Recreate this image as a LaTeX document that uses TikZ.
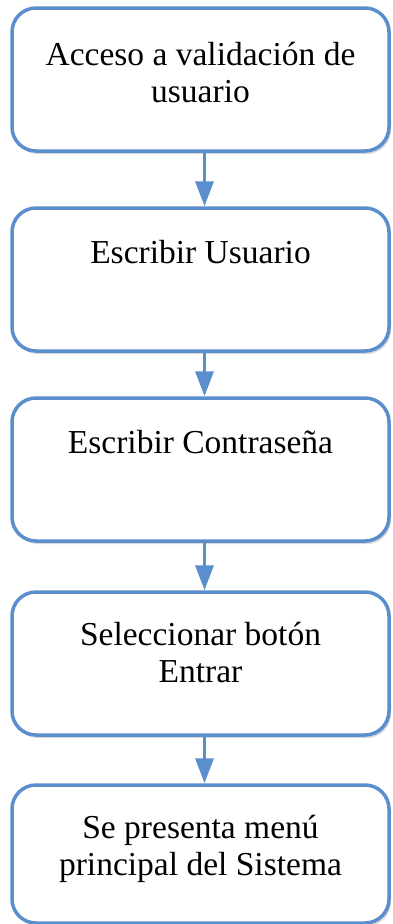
\documentclass[tikz,border=0pt]{standalone}
\usepackage{fontspec}
\setmainfont{Liberation Serif}
\usetikzlibrary{positioning,shadows,arrows.meta}
\definecolor{boxblue}{RGB}{91,142,204}

\begin{document}
\begin{tikzpicture}[
  stepbox/.style={draw=boxblue,line width=3.5pt,rounded corners=24pt,fill=white,
    minimum width=377pt,minimum height=143pt,
    drop shadow={opacity=0.3,shadow xshift=2pt,shadow yshift=-3pt}},
  steptext/.style={anchor=base,align=center,font=\fontsize{33.5}{37}\selectfont,inner sep=0pt},
  flow/.style={draw=boxblue,line width=3.5pt,-{Triangle[width=18pt,length=25pt]}}]

\useasboundingbox (0,0) rectangle (393pt,-924pt);

\node[stepbox] (acceso) at (200.5pt,-79.5pt) {};
\node[stepbox,below=53.5pt of acceso] (usuario) {};
\node[stepbox,below=43.5pt of usuario] (clave) {};
\node[stepbox,below=47.5pt of clave] (entrar) {};
\node[stepbox,below=46.5pt of entrar,minimum height=138pt] (menu) {};

% base is the last line
\node[steptext] (t1) at ([yshift=-96pt]acceso.north) {Acceso a validación de\\usuario};
\node[steptext] (t2) at ([yshift=-57pt]usuario.north) {Escribir Usuario};
\node[steptext] (t3) at ([yshift=-57pt]clave.north) {Escribir Contraseña};
\node[steptext] (t4) at ([yshift=-92pt]entrar.north) {Seleccionar botón\\Entrar};
\node[steptext] (t5) at ([yshift=-92pt]menu.north) {Se presenta menú\\principal del Sistema};

\draw[flow] ([xshift=4pt]acceso.south) -- ([xshift=4pt]usuario.north);
\draw[flow] ([xshift=4pt]usuario.south) -- ([xshift=4pt]clave.north);
\draw[flow] ([xshift=4pt]clave.south) -- ([xshift=4pt]entrar.north);
\draw[flow] ([xshift=4pt]entrar.south) -- ([xshift=4pt]menu.north);
\end{tikzpicture}
\end{document}
